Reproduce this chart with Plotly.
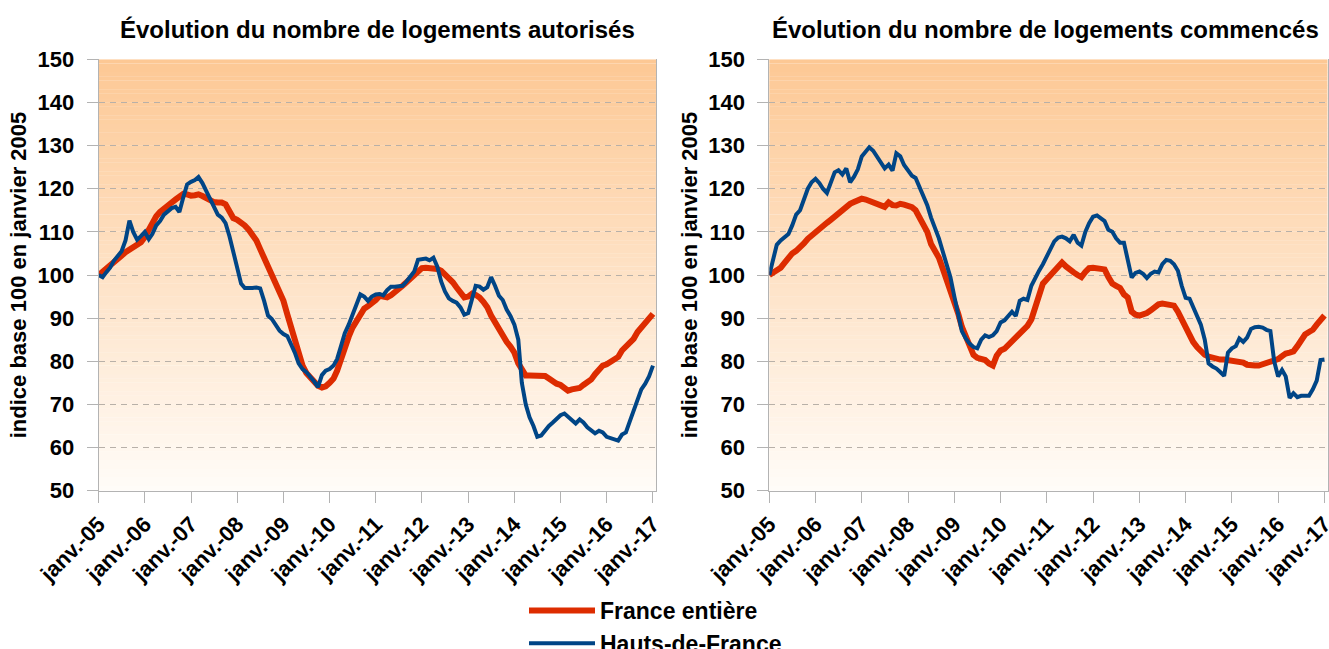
import pandas as pd
import plotly.graph_objects as go

# ---------------- data (index base 100 = janvier 2005, monthly) ----------------
months = pd.date_range("2005-01-01", periods=145, freq="MS")

tick_dates = pd.date_range("2005-01-01", "2017-01-01", freq="YS")
tick_labels = ["janv.-05", "janv.-06", "janv.-07", "janv.-08", "janv.-09", "janv.-10",
               "janv.-11", "janv.-12", "janv.-13", "janv.-14", "janv.-15", "janv.-16", "janv.-17"]

series_names = ["France entière", "Hauts-de-France"]
panel_titles = ["Évolution du nombre de logements autorisés",
                "Évolution du nombre de logements commencés"]
y_title = "indice base 100 en janvier 2005"

aut_france = [
    100, 100.7, 101.5, 102.3, 103, 103.8, 104.5, 105.3, 105.9, 106.4, 107, 107.6,
    108.8, 110.5, 112.3, 113.6, 114.6, 115.5, 116.2, 116.8, 117.5, 118.3, 118.8, 118.7,
    118.4, 118.5, 118.7, 118.3, 117.8, 117.1, 116.9, 116.8, 116.8, 116.4, 114.8, 113.2,
    112.8, 112.3, 111.5, 110.5, 109.3, 108, 106, 104, 102.4, 100.5, 98.7, 96.5,
    94, 90.8, 88, 84.8, 81.5, 79, 77.3, 76.1, 75.2, 74.3, 73.9, 74.2,
    75, 76, 77.8, 80.8, 83.5, 85.7, 87.8, 89.5, 91, 92.2, 92.8, 93.3,
    94.2, 95.2, 95, 94.8, 95.3, 96.2, 96.6, 97.5, 98.3, 99.2, 100.1, 100.9,
    101.6, 101.7, 101.7, 101.7, 101.4, 101, 100.2, 99.5, 98.3, 97.1, 96, 94.8,
    95, 95.7, 95.4, 94.8, 93.8, 92.5, 90.6, 89, 87.2, 85.7, 84.5, 83.4,
    82, 79.5, 77.8, 76.7, 76.7, 76.6, 76.7, 76.7, 76.6, 76, 75.3, 74.8,
    74.5, 74, 73.2, 73.5, 73.5, 73.8, 74.5, 75.2, 75.8, 77, 78.3, 79,
    79.3, 80, 80.5, 81, 82.5, 83.3, 84, 85.2, 86.8, 87.8, 88.5, 89.8,
    91,
]

aut_hdf = [
    100, 99.5, 100.6, 101.7, 103.3, 104.5, 105.5, 108, 112.6, 110, 108.2, 109,
    110, 108.3, 109.5, 111.5, 112.5, 114, 114.8, 115.5, 115.8, 114.6, 118, 121,
    121.6, 122, 122.7, 121.3, 119.5, 117.5, 115.5, 114, 113.3, 112, 109, 105.7,
    101.5, 98, 97, 96.9, 97, 97.1, 96.9, 94, 90.6, 89.8, 88.5, 87.1,
    86.3, 85.8, 84, 82, 79.5, 78.2, 77.5, 76.5, 75.3, 74, 76.8, 77.8,
    78.2, 79, 80.5, 83.5, 86.5, 88.5, 91, 93.5, 95.5, 95, 94, 95,
    95.5, 95.6, 95.3, 96.5, 97.3, 97.3, 97.3, 97.5, 98.5, 99.7, 100.8, 103.5,
    103.6, 103.8, 103.4, 104, 102, 98.5, 96.2, 94.6, 94, 93.6, 92.5, 90.8,
    91.2, 94.5, 97.5, 97.3, 96.6, 97.2, 99.5, 97.5, 95.2, 94.2, 92, 90.5,
    88.5, 85, 75, 70, 67, 65, 62.5, 62.8, 64, 65, 65.8, 66.7,
    67.5, 67.9, 67.2, 66.3, 65.6, 66.5, 65.8, 64.7, 64, 63.3, 63.9, 63.5,
    62.5, 62.2, 61.9, 61.6, 63, 63.5, 66, 68.5, 71.5, 73.5, 74.8, 76.5,
    79,
]

com_france = [
    100, 100.5, 101.1, 101.7, 102.8, 104.2, 105, 105.6, 106.3, 107.3, 108.4, 109.2,
    110.1, 110.7, 111.5, 112.1, 112.8, 113.6, 114.5, 115.2, 115.8, 116.5, 116.9, 117.5,
    117.7, 117.5, 117.2, 117, 116.8, 116.4, 115.8, 116.8, 116.2, 116.1, 116.5, 116.3,
    116, 115.7, 115, 113.5, 112, 110, 107.2, 105.5, 104, 101.5, 99, 96.5,
    94, 91, 88, 85.5, 83, 81.5, 80.8, 80.7, 80.3, 79.5, 79, 81.3,
    82.5, 82.9, 83.7, 84.6, 85.7, 86.7, 87.5, 88.2, 89.7, 92.5, 96, 98,
    99, 100, 101, 102, 102.9, 102, 101.5, 100.6, 100, 99.5, 100.7, 101.6,
    101.7, 101.6, 101.5, 101.3, 99.5, 98, 97.5, 97, 95.5, 94.8, 91.5, 90.8,
    90.6, 90.8, 91.2, 91.8, 92.7, 93.2, 93.4, 93.3, 93.1, 92.9, 91.5, 89.7,
    87.6, 85.8, 84.5, 83.3, 82.2, 81.5, 81.1, 80.8, 80.5, 80.4, 80.4, 80.3,
    80.2, 80, 79.8, 79.7, 79.2, 79, 79, 79, 79.3, 79.7, 79.9, 80,
    80.5, 81.2, 81.8, 82, 82.3, 83.5, 84.8, 86.2, 86.8, 87.3, 88.5, 89.8,
    90.6,
]

com_hdf = [
    100, 104, 107, 108, 108.6, 109.5, 111.5, 114, 115, 117.5, 120, 121.5,
    122.3, 121.3, 120, 119, 121.5, 123.8, 124.3, 123.3, 124.7, 121.5, 122.8, 124.5,
    127.5, 128.5, 129.6, 128.8, 127.3, 126, 124.7, 125.6, 124.2, 128.2, 127.5, 125.5,
    124.2, 123, 122.5, 120.5, 118.5, 116.2, 113.3, 111, 108.5, 105.5, 102.5, 99.5,
    95, 90.5, 87, 85.3, 84.1, 83.3, 83, 85, 86, 85.6, 86, 87,
    89, 89.5, 90.5, 91.5, 90.5, 94, 94.5, 94.2, 97.5, 99.5, 101, 102.5,
    104.3, 106, 107.8, 108.7, 108.9, 108.5, 107.8, 109.3, 107.5, 106.8, 110, 112,
    113.5, 113.8, 113.2, 112.5, 110.5, 110, 108.5, 107.5, 107.5, 103.4, 99.4, 100.5,
    100.8, 100.2, 99.3, 100.3, 100.8, 100.6, 102.5, 103.5, 103.3, 102.5, 101, 97.5,
    94.7, 94.5, 92.5, 90.7, 88.5, 85, 79.5, 78.8, 78.3, 77.5, 76.6, 82,
    83, 83.5, 85.3, 84.5, 85.5, 87.5, 87.9, 88, 87.8, 87.3, 87, 80,
    76.5, 78, 76.5, 71.5, 72.6, 71.7, 72, 72, 72, 73.5, 75.5, 80.3,
    80.4,
]

# ---------------- styling ----------------
RED = "#dd2c00"
BLUE = "#004586"
FONT = "Liberation Sans"
GRID = "#b8b0a8"
AXIS = "#b3b3b3"
TOP_RGB = (253, 200, 148)
BOT_RGB = (255, 252, 248)

W, H = 1329, 649
y_dom = [1 - 490.7 / H, 1 - 59.3 / H]
x_doms = [[98.7 / W, 656 / W], [769.3 / W, 1327.5 / W]]
x_range = ["2005-01-01", "2017-01-25"]
y_min, y_max = 50, 150

fig = go.Figure()

panels = [(aut_france, aut_hdf), (com_france, com_hdf)]
for i, (fr, hdf) in enumerate(panels):
    xa = "x" if i == 0 else "x2"
    ya = "y" if i == 0 else "y2"
    fig.add_trace(go.Scatter(x=months, y=fr, mode="lines", name=series_names[0],
                             line=dict(color=RED, width=6), xaxis=xa, yaxis=ya,
                             showlegend=(i == 0), hoverinfo="skip"))
    fig.add_trace(go.Scatter(x=months, y=hdf, mode="lines", name=series_names[1],
                             line=dict(color=BLUE, width=4), xaxis=xa, yaxis=ya,
                             showlegend=(i == 0), hoverinfo="skip"))

# gradient background (bands below gridlines)
shapes = []
n_bands = 100
for i in range(2):
    xr = "x domain" if i == 0 else "x2 domain"
    yr = "y" if i == 0 else "y2"
    for k in range(n_bands):
        t = (k + 0.5) / n_bands
        c = tuple(round(BOT_RGB[j] + (TOP_RGB[j] - BOT_RGB[j]) * t) for j in range(3))
        y0 = y_min + (y_max - y_min) * k / n_bands
        y1 = y_min + (y_max - y_min) * (k + 1.05) / n_bands
        shapes.append(dict(type="rect", xref=xr, yref=yr, x0=0, x1=1, y0=y0, y1=min(y1, y_max),
                           fillcolor="rgb(%d,%d,%d)" % c, line=dict(width=0), layer="below"))

tick_font = dict(family=FONT, size=22, color="black", weight="bold")

def xaxis_cfg(dom, anchor):
    return dict(domain=dom, anchor=anchor, type="date", range=x_range,
                tickvals=tick_dates, ticktext=tick_labels, tickangle=-45,
                tickfont=tick_font, ticks="outside", ticklen=11, tickcolor=AXIS,
                tickwidth=1, showline=True, linecolor=AXIS, linewidth=1,
                ticklabeloverflow="allow",
                showgrid=False, zeroline=False, automargin=False, fixedrange=True)

def yaxis_cfg(anchor):
    return dict(domain=y_dom, anchor=anchor, range=[y_min, y_max],
                tickvals=list(range(50, 151, 10)), tickfont=tick_font,
                ticks="outside", ticklen=11, tickcolor=AXIS, tickwidth=1,
                ticklabelstandoff=8,
                showline=True, linecolor=AXIS, linewidth=1, mirror=True,
                showgrid=True, gridcolor=GRID, griddash="6px,5px", gridwidth=1,
                zeroline=False, automargin=False, fixedrange=True,
                title=dict(text=y_title, font=tick_font, standoff=4))

annotations = []
for i, cx in enumerate([377 / W, 1045 / W]):
    annotations.append(dict(text=panel_titles[i], xref="paper", yref="paper",
                            x=cx, y=1 - 30 / H, xanchor="center", yanchor="middle",
                            showarrow=False,
                            font=dict(family=FONT, size=24, color="black", weight="bold")))

fig.update_layout(
    width=W, height=H,
    template="none",
    paper_bgcolor="white", plot_bgcolor="white",
    margin=dict(l=0, r=0, t=0, b=0, autoexpand=False),
    xaxis=xaxis_cfg(x_doms[0], "y"),
    yaxis=yaxis_cfg("x"),
    xaxis2=xaxis_cfg(x_doms[1], "y2"),
    yaxis2=yaxis_cfg("x2"),
    shapes=shapes,
    annotations=annotations,
    showlegend=True,
    legend=dict(x=524 / W, y=1 - 589 / H, xanchor="left", yanchor="top",
                orientation="v", bgcolor="rgba(0,0,0,0)", borderwidth=0,
                font=dict(family=FONT, size=23, color="black", weight="bold"),
                itemwidth=66, tracegroupgap=0),
)

fig.write_html("out.html", config={"displayModeBar": False},
               post_script="document.body.style.margin='0';document.body.style.overflow='hidden';")
